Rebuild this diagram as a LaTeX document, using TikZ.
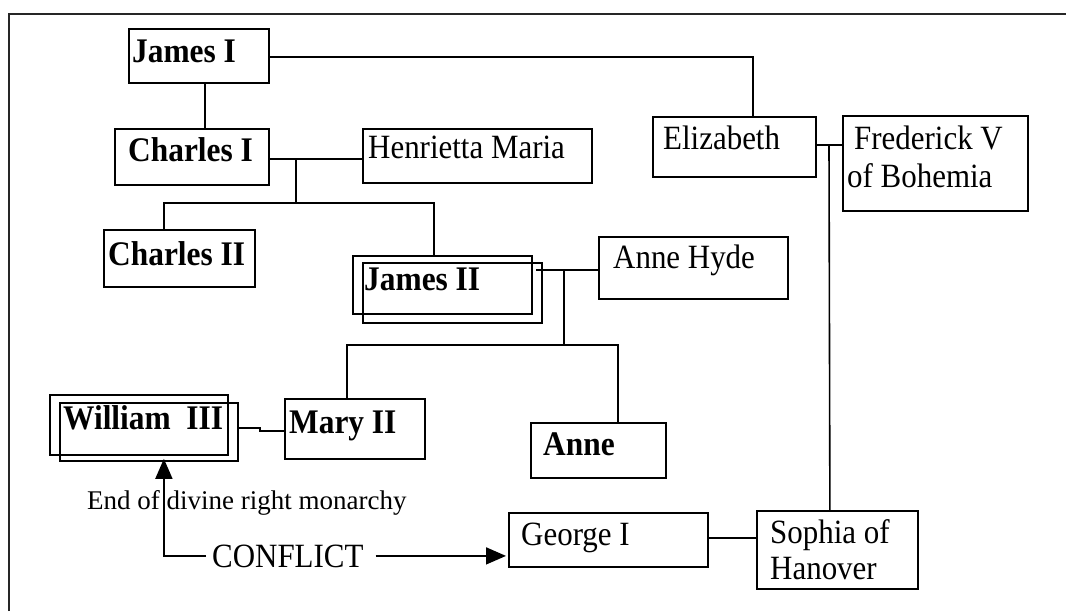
\documentclass[tikz,border=0pt]{standalone}
\usepackage{fontspec}
\setmainfont{Liberation Serif}[FakeStretch=0.91]
\newfontfamily\notefamily{Liberation Serif}
\usetikzlibrary{arrows.meta}

% fonts for the family tree
\newcommand\monarchfont{\fontsize{34.5}{40}\selectfont\bfseries}
\newcommand\personfont{\fontsize{34}{40}\selectfont}
\newcommand\notefont{\notefamily\fontsize{27}{31}\selectfont}

% a box given by its top-left and bottom-right corners
\newcommand\kinbox[5]{%
  \node[kbox, minimum width={(#4-#2)*1pt}, minimum height={(#5-#3)*1pt}] (#1) at (#2,#3) {};}

\tikzset{
  kbox/.style={draw, line width=1.8pt, inner sep=0pt, anchor=north west},
  kname/.style={anchor=base west, inner sep=0pt},
  royal/.style={kname, font=\monarchfont},
  plain/.style={kname, font=\personfont},
  link/.style={line width=1.6pt},
  tip/.style={-{Triangle[length=20pt,width=17pt]}},
  frame/.style={line width=2pt, draw=black!85},
}

\begin{document}
\begin{tikzpicture}[x=1pt, y=-1pt]
\useasboundingbox (0,0) rectangle (1066,611);

% outer frame (only its left and top sides are in view)
\draw[frame] (9,611) -- (9,14) -- (1066,14);

% boxes
\kinbox{jamesI}{128}{28}{268}{82}
\kinbox{charlesI}{114}{128}{268}{184}
\kinbox{henrietta}{362}{128}{591}{182}
\kinbox{charlesII}{103}{229}{254}{286}
\kinbox{jamesIIa}{352}{255}{531}{313}
\kinbox{jamesIIb}{362}{262}{541}{322}
\kinbox{annehyde}{598}{236}{787}{298}
\kinbox{elizabeth}{652}{116}{815}{176}
\kinbox{frederick}{842}{115}{1027}{210}
\kinbox{williamIIIa}{49}{394}{227}{454}
\kinbox{williamIIIb}{59}{402}{237}{460}
\kinbox{maryII}{284}{398}{424}{458}
\kinbox{anne}{530}{422}{665}{477}
\kinbox{georgeI}{508}{512}{707}{566}
\kinbox{sophia}{756}{510}{917}{588}

% names
\node[royal] (jamesI-t) at (132,62) {James I};
\node[royal] (charlesI-t) at (128,161) {Charles I};
\node[plain] (henrietta-t) at (368,158) {Henrietta Maria};
\node[royal] (charlesII-t) at (108,265) {Charles II};
\node[royal] (jamesII-t) at (364,290) {James II};
\node[plain] (annehyde-t) at (613,268) {Anne Hyde};
\node[plain] (elizabeth-t) at (663,149) {Elizabeth};
\node[plain] (frederick-t1) at (854,149) {Frederick V};
\node[plain] (frederick-t2) at (847,187) {of Bohemia};
\node[royal] (williamIII-t) at (63,429) {William\ \ III};
\node[royal] (maryII-t) at (289,433) {Mary II};
\node[royal] (anne-t) at (543,455) {Anne};
\node[plain] (georgeI-t) at (521,545) {George I};
\node[plain] (sophia-t1) at (770,543) {Sophia of};
\node[plain] (sophia-t2) at (770,579) {Hanover};

\node[kname, font=\notefont] (divine) at (87,509) {End of divine right monarchy};
\node[plain, inner xsep=6pt] (conflict) at (206,567) {CONFLICT};

% junction points
\coordinate (cm) at (296,158);
\coordinate (ck) at (296,203);
\coordinate (jh) at (564,269);
\coordinate (jk) at (564,345);
\coordinate (ef) at (829,144);
\coordinate (wm) at (260,427);

% lines of descent and marriage
\draw[link] ([yshift=-1pt]jamesI.east) -| ([xshift=18.5pt]elizabeth.north);
\draw[link] ([xshift=6pt]jamesI.south) -- ([xshift=6pt]jamesI.south |- charlesI.north);
\draw[link] ([yshift=-2pt]charlesI.east) -- ([yshift=-2pt]charlesI.east -| henrietta.west);
\draw[link] (cm) -- (ck);
\draw[link] ([xshift=-15.5pt]charlesII.north) |- (ck) -| ([xshift=-8.5pt]jamesIIa.north);
\draw[link] ([yshift=-2pt]annehyde.west) -- ([xshift=-7pt,yshift=-2pt]annehyde.west -| jamesIIb.east);
\draw[link] (jh) -- (jk);
\draw[link] ([xshift=-8pt]maryII.north) |- (jk) -| ([xshift=19.5pt]anne.north);
\draw[link] ([yshift=4pt]williamIIIb.east) -| (wm) |- ([yshift=-2pt]maryII.west);
\draw[link] ([yshift=2pt]elizabeth.east) -- ([yshift=2pt]elizabeth.east -| frederick.west);
\draw[link] (ef) -- ([xshift=-7.5pt]sophia.north);
\draw[link] ([yshift=2pt]georgeI.east) -- ([yshift=2pt]georgeI.east -| sophia.west);

% the conflict arrows
\draw[link, tip] (conflict.west) -| ([xshift=15pt,yshift=3pt]williamIIIb.south);
\draw[link, tip] ([xshift=6pt]conflict.east) -- ([xshift=-2pt]georgeI.west |- conflict.east);
\end{tikzpicture}
\end{document}
